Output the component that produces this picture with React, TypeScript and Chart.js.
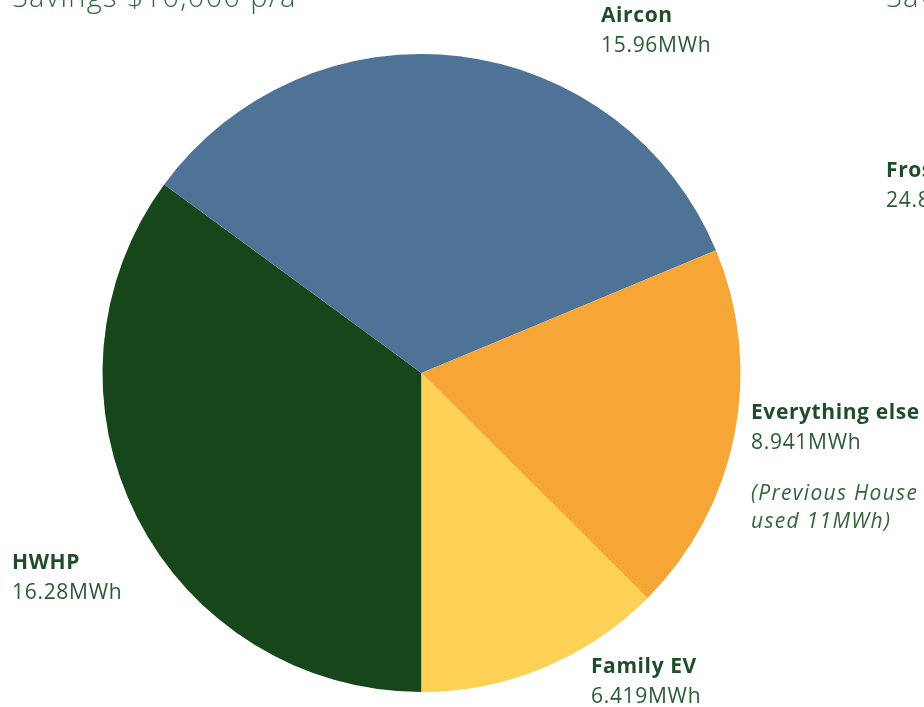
import React, { useEffect, useRef } from "react";
import { Chart, registerables } from "chart.js";

Chart.register(...registerables);

const categories = ["HWHP", "Aircon", "Everything else", "Family EV"];
// slice sizes (MWh)
const sliceValues = [16.69, 16.02, 8.93, 5.96];
const valueLabels = ["16.28MWh", "15.96MWh", "8.941MWh", "6.419MWh"];
const sliceColors = ["#17461a", "#4e7397", "#f5a636", "#fdd155"];
const noteLines = ["(Previous House", "used 11MWh)"];
const titleLeft = "Savings $10,000 p/a";
const titleRight = "Savings";
const neighbourCategory = "Frost";
const neighbourValue = "24.8MWh";

// label anchors, in units of the pie radius relative to its centre
const labelAnchors: [number, number][] = [
  [-1.2837, 0.6144],
  [0.5627, -1.1003],
  [1.0329, 0.1442],
  [0.5313, 0.9404],
];

const FONT = "'Open Sans', 'DejaVu Sans', sans-serif";
const BOLD_COLOR = "#1f4d2b";
const VALUE_COLOR = "#2c5a37";
const NOTE_COLOR = "#35633c";
const TITLE_COLOR = "#2f6840";

const labelPlugin = {
  id: "outerLabels",
  afterDraw(chart: any) {
    const ctx = chart.ctx as CanvasRenderingContext2D;
    const meta = chart.getDatasetMeta(0);
    const arc = meta.data[0] as any;
    const cx = arc.x;
    const cy = arc.y;
    const R = arc.outerRadius;
    ctx.save();
    ctx.textAlign = "left";
    ctx.textBaseline = "alphabetic";
    const bold = () => {
      ctx.fillStyle = BOLD_COLOR;
      ctx.font = `bold 21px ${FONT}`;
      (ctx as any).letterSpacing = "0.6px";
    };
    const regular = () => {
      ctx.fillStyle = VALUE_COLOR;
      ctx.font = `21px ${FONT}`;
      (ctx as any).letterSpacing = "0.7px";
    };
    categories.forEach((cat, i) => {
      const x = cx + labelAnchors[i][0] * R;
      const y = cy + labelAnchors[i][1] * R;
      bold();
      ctx.fillText(cat, x, y);
      regular();
      ctx.fillText(valueLabels[i], x, y + 30);
      if (cat === "Everything else") {
        ctx.fillStyle = NOTE_COLOR;
        ctx.font = `italic 21px ${FONT}`;
        (ctx as any).letterSpacing = "1.3px";
        noteLines.forEach((ln, j) => ctx.fillText(ln, x, y + 81 + j * 28));
      }
    });
    // neighbouring page text, cut by the frame
    ctx.fillStyle = TITLE_COLOR;
    ctx.font = `300 29px ${FONT}`;
    (ctx as any).letterSpacing = "1.3px";
    ctx.fillText(titleLeft, 12, 7);
    ctx.fillText(titleRight, 886, 7);
    bold();
    ctx.fillText(neighbourCategory, 886, 177);
    regular();
    ctx.fillText(neighbourValue, 886, 207);
    ctx.restore();
  },
};

export default function App() {
  const ref = useRef<HTMLCanvasElement | null>(null);
  useEffect(() => {
    if (!ref.current) return;
    const chart = new Chart(ref.current, {
      type: "pie",
      data: {
        labels: categories,
        datasets: [
          {
            data: sliceValues,
            backgroundColor: sliceColors,
            borderWidth: 0,
          },
        ],
      },
      options: {
        responsive: false,
        animation: false,
        devicePixelRatio: 1,
        rotation: 180,
        layout: { padding: { left: 102.5, right: 183.5, top: 54, bottom: 15 } },
        plugins: {
          legend: { display: false },
          tooltip: { enabled: false },
        },
      },
      plugins: [labelPlugin],
    });
    return () => chart.destroy();
  }, []);
  return (
    <div style={{ position: "fixed", left: 0, top: 0, width: 924, height: 707, background: "#fff" }}>
      <canvas ref={ref} width={924} height={707} style={{ display: "block" }} />
    </div>
  );
}
